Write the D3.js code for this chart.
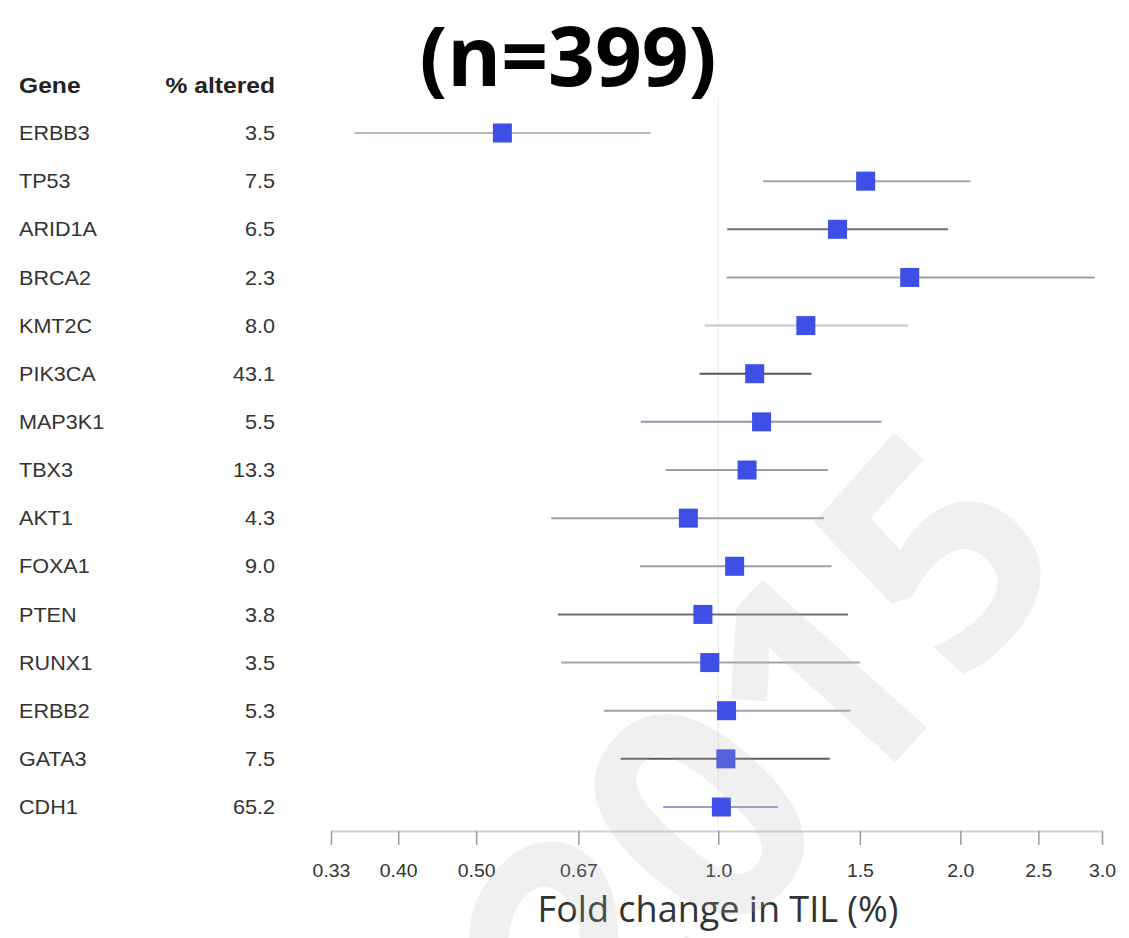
<!DOCTYPE html>
<html>
<head>
<meta charset="utf-8">
<script src="https://cdn.jsdelivr.net/npm/d3@7"></script>
<style>
  html, body { margin: 0; padding: 0; background: #ffffff; }
  svg { display: block; }
</style>
</head>
<body>
<script>
// Gene-level fold change in tumour-infiltrating lymphocytes, with 95% intervals
const genes      = ["ERBB3","TP53","ARID1A","BRCA2","KMT2C","PIK3CA","MAP3K1","TBX3","AKT1","FOXA1","PTEN","RUNX1","ERBB2","GATA3","CDH1"];
const pctAltered = ["3.5","7.5","6.5","2.3","8.0","43.1","5.5","13.3","4.3","9.0","3.8","3.5","5.3","7.5","65.2"];
const foldChange = [0.539,1.525,1.407,1.730,1.285,1.110,1.132,1.086,0.918,1.048,0.957,0.976,1.024,1.022,1.009];
const ciLower    = [0.353,1.137,1.026,1.024,0.962,0.948,0.801,0.860,0.620,0.799,0.632,0.638,0.721,0.756,0.854];
const ciUpper    = [0.824,2.059,1.931,2.938,1.722,1.306,1.596,1.369,1.353,1.383,1.450,1.500,1.460,1.376,1.187];
const tickValues = [0.33,0.40,0.50,0.67,1.0,1.5,2.0,2.5,3.0];
const tickLabels = ["0.33","0.40","0.50","0.67","1.0","1.5","2.0","2.5","3.0"];

// interval line tone per gene
const lineTone = {
  ERBB3:"#b4b4cc", TP53:"#a4a4b4", ARID1A:"#6e6e7e", BRCA2:"#9c9cae", KMT2C:"#c4c4d4",
  PIK3CA:"#55555f", MAP3K1:"#9494ac", TBX3:"#9c9cac", AKT1:"#9c9cac", FOXA1:"#9c9cac",
  PTEN:"#6c6c7a", RUNX1:"#a4a4b4", ERBB2:"#a0a0b0", GATA3:"#58586c", CDH1:"#9c9cd0"
};

const W = 1129, H = 938;
const svg = d3.select("body").append("svg").attr("width", W).attr("height", H);

const x = d3.scaleLog().domain([0.33, 3.0]).range([331, 1102]);
const y = d3.scalePoint().domain(genes).range([133, 807]);

const rows = genes.map((g, i) => ({ gene: g, pct: pctAltered[i], est: foldChange[i], lo: ciLower[i], hi: ciUpper[i] }));

// title
svg.append("text")
  .attr("x", 568).attr("y", 86)
  .attr("text-anchor", "middle")
  .attr("font-family", "'Open Sans', sans-serif")
  .attr("font-weight", 700)
  .attr("font-size", 82)
  .attr("fill", "#000")
  .text("(n=399)");

// table headers (slightly widened Helvetica-style lettering)
const sans = "'Liberation Sans', Arial, Helvetica, sans-serif";
const header = svg.append("g").attr("font-family", sans).attr("font-weight", 700)
  .attr("font-size", 22).attr("fill", "#222");
header.append("text").attr("transform", "translate(19,93) scale(1.12,1)").text("Gene");
header.append("text").attr("transform", "translate(275,93) scale(1.12,1)")
  .attr("text-anchor", "end").text("% altered");

// table body
const table = svg.append("g").attr("font-family", sans).attr("font-size", 20).attr("fill", "#333");
table.selectAll("text.gene").data(rows).join("text")
  .attr("class", "gene")
  .attr("transform", d => `translate(19,${y(d.gene)}) scale(1.08,1)`)
  .attr("dy", "0.36em")
  .text(d => d.gene);
table.selectAll("text.pct").data(rows).join("text")
  .attr("class", "pct")
  .attr("transform", d => `translate(275,${y(d.gene)}) scale(1.08,1)`)
  .attr("dy", "0.36em")
  .attr("text-anchor", "end")
  .text(d => d.pct);

// reference line at no change
svg.append("line")
  .attr("x1", x(1)).attr("x2", x(1))
  .attr("y1", 97).attr("y2", 830)
  .attr("stroke", "#ebebeb").attr("stroke-width", 1);

// x axis
const axis = svg.append("g")
  .attr("transform", "translate(0,831)")
  .call(d3.axisBottom(x).tickValues(tickValues).tickFormat((d, i) => tickLabels[i]).tickSize(14).tickSizeOuter(0).tickPadding(0));
axis.select(".domain").attr("stroke", "#d0d0d0").attr("stroke-width", 2);
axis.selectAll(".tick line").attr("stroke", "#9a9a9a").attr("stroke-width", 1.5);
axis.selectAll(".tick text")
  .attr("y", 40).attr("dy", "0.36em")
  .attr("transform", "scale(1.08,1)")
  .attr("font-family", sans).attr("font-size", 18).attr("fill", "#333");

svg.append("text")
  .attr("x", 718).attr("y", 922)
  .attr("text-anchor", "middle")
  .attr("font-family", "'Open Sans', sans-serif")
  .attr("font-size", 36)
  .attr("fill", "#333")
  .text("Fold change in TIL (%)");

// intervals and estimates
const marks = svg.append("g");
marks.selectAll("line.ci").data(rows).join("line")
  .attr("class", "ci")
  .attr("x1", d => x(d.lo)).attr("x2", d => x(d.hi))
  .attr("y1", d => y(d.gene)).attr("y2", d => y(d.gene))
  .attr("stroke", d => lineTone[d.gene]).attr("stroke-width", 2);
const sq = 19;
marks.selectAll("rect.est").data(rows).join("rect")
  .attr("class", "est")
  .attr("x", d => x(d.est) - sq / 2).attr("y", d => y(d.gene) - sq / 2)
  .attr("width", sq).attr("height", sq)
  .attr("fill", "#3d4fe6");

// translucent year watermark over the plot
svg.append("text")
  .attr("transform", "translate(758,748) rotate(-48)")
  .attr("text-anchor", "middle")
  .attr("dy", "0.36em")
  .attr("font-family", "'Open Sans', sans-serif")
  .attr("font-weight", 700)
  .attr("font-size", 310)
  .attr("fill", "#b4b4b4")
  .attr("fill-opacity", 0.2)
  .text("2015");
</script>
</body>
</html>
